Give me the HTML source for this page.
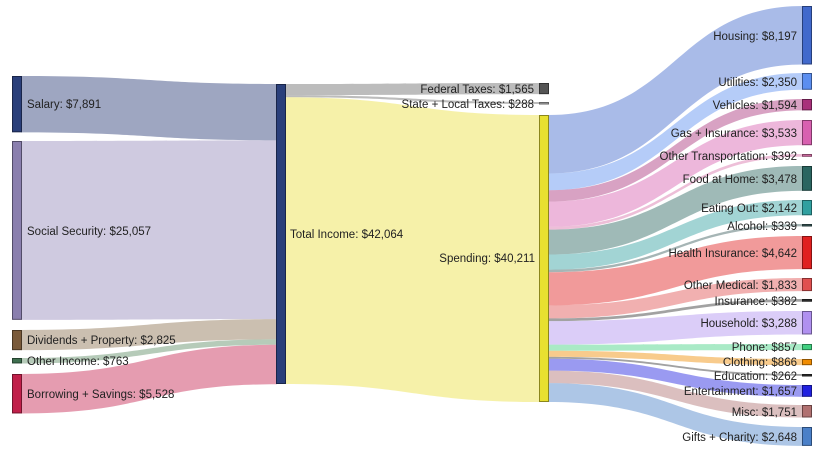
<!DOCTYPE html>
<html><head><meta charset="utf-8"><style>
html,body{margin:0;padding:0;background:#fff;}
svg{display:block;font-family:"Liberation Sans",Arial,sans-serif;font-size:11.5px;}
text{fill:#222;}
</style></head><body>
<svg id="s" width="820" height="453" viewBox="0 0 820 453">
<g id="links"></g>
<g id="nodes"></g>
<g>
<text x="27" y="108">Salary: $7,891</text>
<text x="27" y="235">Social Security: $25,057</text>
<text x="27" y="344">Dividends + Property: $2,825</text>
<text x="27" y="365">Other Income: $763</text>
<text x="27" y="398">Borrowing + Savings: $5,528</text>
<text x="290" y="238">Total Income: $42,064</text>
<text x="534" y="93" text-anchor="end">Federal Taxes: $1,565</text>
<text x="534" y="108" text-anchor="end">State + Local Taxes: $288</text>
<text x="535" y="262" text-anchor="end">Spending: $40,211</text>
<text x="797" y="40" text-anchor="end">Housing: $8,197</text>
<text x="797" y="86" text-anchor="end">Utilities: $2,350</text>
<text x="797" y="109" text-anchor="end">Vehicles: $1,594</text>
<text x="797" y="137" text-anchor="end">Gas + Insurance: $3,533</text>
<text x="797" y="160" text-anchor="end">Other Transportation: $392</text>
<text x="797" y="183" text-anchor="end">Food at Home: $3,478</text>
<text x="797" y="212" text-anchor="end">Eating Out: $2,142</text>
<text x="797" y="230" text-anchor="end">Alcohol: $339</text>
<text x="797" y="257" text-anchor="end">Health Insurance: $4,642</text>
<text x="797" y="289" text-anchor="end">Other Medical: $1,833</text>
<text x="797" y="305" text-anchor="end">Insurance: $382</text>
<text x="797" y="327" text-anchor="end">Household: $3,288</text>
<text x="797" y="351" text-anchor="end">Phone: $857</text>
<text x="797" y="366" text-anchor="end">Clothing: $866</text>
<text x="797" y="380" text-anchor="end">Education: $262</text>
<text x="797" y="395" text-anchor="end">Entertainment: $1,657</text>
<text x="797" y="416" text-anchor="end">Misc: $1,751</text>
<text x="797" y="441" text-anchor="end">Gifts + Charity: $2,648</text>
</g>
</svg>
<script>
var NS="http://www.w3.org/2000/svg";
var L=document.getElementById('links'),N=document.getElementById('nodes');
function shade(c){var n=parseInt(c.slice(1),16);var r=(n>>16)*0.6,g=((n>>8)&255)*0.6,b=(n&255)*0.6;return 'rgb('+(r|0)+','+(g|0)+','+(b|0)+')';}
function node(x,y0,y1,c){var r=document.createElementNS(NS,'rect');r.setAttribute('x',x+0.5);r.setAttribute('y',y0+0.5);r.setAttribute('width',9);r.setAttribute('height',Math.max(1.5,y1-y0-1));r.setAttribute('fill',c);r.setAttribute('stroke',shade(c));r.setAttribute('stroke-width',1);N.appendChild(r);}
function link(x0,a0,a1,x1,b0,b1,c,op){var m=(x0+x1)/2;var d='M'+x0+','+a0+'C'+m+','+a0+' '+m+','+b0+' '+x1+','+b0+'L'+x1+','+b1+'C'+m+','+b1+' '+m+','+a1+' '+x0+','+a1+'Z';var p=document.createElementNS(NS,'path');p.setAttribute('d',d);p.setAttribute('fill',c);p.setAttribute('fill-opacity',op||0.45);L.appendChild(p);}
var k=287/40211;
var left=[[76,7891,'#2a3f7a','#6a76a0',0.65],[141,25057,'#8a7fae','#a89fc6',0.55],[330,2825,'#7a5a3a','#a08a70',0.55],[358,763,'#3f6f4f','#7aa07f',0.55],[374,5528,'#c0204a','#d04a70',0.55]];
var ty=84;
left.forEach(function(l){var h=l[1]*k;link(21,l[0],l[0]+h,277,ty,ty+h,l[3],l[4]);node(12,l[0],l[0]+h,l[2]);ty+=h;});
node(276,84,384,'#2a3f7a');
var fh=1565*k,sh=288*k;
link(285,84,84+fh,540,83,83+fh,'#909090',0.6);node(539,83,83+fh,'#555555');
link(285,84+fh,84+fh+sh,540,102,102+sh,'#909090',0.6);node(539,102,104.5,'#aaaaaa');
link(285,84+fh+sh,384,540,115,402,'#f0e870',0.6);
node(539,115,402,'#e8e030');
var right=[[6,8197,'#4169cc'],[73,2350,'#5b8ef0'],[99,1594,'#a8307a'],[120,3533,'#d860b0'],[154,392,'#d870a8'],[166,3478,'#2a6560'],[200,2142,'#30a0a0'],[224,339,'#3a5a5a'],[236,4642,'#e02020'],[278,1833,'#e05050'],[299,382,'#303030'],[311,3288,'#b090f0'],[344,857,'#40d080'],[359,866,'#f08c00'],[374,262,'#303030'],[385,1657,'#2020e0'],[405,1751,'#b07070'],[427,2648,'#4a80c8']];
var sy=115;
right.forEach(function(r){var h=r[1]*k;link(548,sy,sy+h,803,r[0],r[0]+h,r[2],0.45);sy+=h;});
right.forEach(function(r){var h=r[1]*k;node(802,r[0],r[0]+h,r[2]);});
</script>
</body></html>
